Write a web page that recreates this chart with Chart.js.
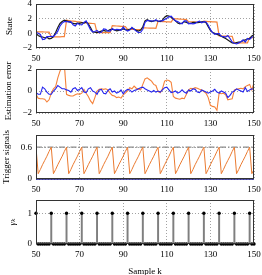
<!DOCTYPE html>
<html><head><meta charset="utf-8">
<script src="https://cdn.jsdelivr.net/npm/chart.js@4/dist/chart.umd.min.js"></script>
<style>
html,body{margin:0;padding:0;background:#fff;}
#wrap{position:relative;width:262px;height:275px;overflow:hidden;}
canvas{position:absolute;left:0;top:0;}
</style></head><body>
<div id="wrap">
<canvas id="c1" width="262" height="275"></canvas>
<canvas id="c2" width="262" height="275"></canvas>
<canvas id="c3" width="262" height="275"></canvas>
<canvas id="c4" width="262" height="275"></canvas>
</div>
<script>
const samples = [50,51,52,53,54,55,56,57,58,59,60,61,62,63,64,65,66,67,68,69,70,71,72,73,74,75,76,77,78,79,80,81,82,83,84,85,86,87,88,89,90,91,92,93,94,95,96,97,98,99,100,101,102,103,104,105,106,107,108,109,110,111,112,113,114,115,116,117,118,119,120,121,122,123,124,125,126,127,128,129,130,131,132,133,134,135,136,137,138,139,140,141,142,143,144,145,146,147,148,149,150];

const trueState = [0.0,-0.3,-0.45,-0.5,-0.6,-0.55,-0.75,-0.7,-0.45,0.1,
 0.8,1.35,1.6,1.8,1.7,1.6,1.5,1.35,1.3,1.4,
 1.35,1.45,1.4,1.55,1.3,0.8,0.2,0.15,0.1,0.2,
 0.3,0.4,0.3,0.35,0.5,0.55,0.45,0.35,0.4,0.5,
 0.6,0.5,0.45,0.55,0.7,0.6,0.4,0.3,0.45,0.9,
 1.7,1.85,1.7,1.6,1.7,1.75,1.65,1.6,1.8,2.2,
 2.4,2.35,2.2,1.9,1.7,1.4,1.3,1.4,1.6,1.5,
 1.4,1.35,1.5,1.5,1.45,1.5,1.55,1.6,1.45,0.9,
 0.4,0.1,0.0,-0.15,-0.25,-0.4,-0.55,-0.7,-0.9,-1.1,
 -1.3,-1.35,-1.25,-1.2,-1.15,-1.0,-0.9,-0.75,-0.7,-0.35,
 -0.2];

const estBlue = [0.15,0.0,-0.15,-0.85,-0.8,-0.45,-0.45,-0.4,-0.45,-0.1,
 0.3,1.0,1.4,1.6,1.6,1.55,1.6,1.15,1.0,1.35,
 1.2,1.15,1.5,1.7,1.1,0.5,0.2,0.25,0.4,0.1,
 0.15,0.6,0.55,0.3,0.3,0.65,0.45,0.55,0.5,0.4,
 0.85,0.5,0.3,0.45,0.8,0.55,0.3,0.1,0.15,0.55,
 1.5,1.75,1.7,1.7,1.65,1.85,1.65,1.7,1.7,1.9,
 2.05,2.25,2.35,2.0,1.7,1.6,1.4,1.3,1.7,1.7,
 1.3,1.35,1.3,1.35,1.55,1.65,1.45,1.6,1.55,1.1,
 0.5,0.1,-0.15,-0.05,-0.05,-0.4,-0.45,-0.5,-0.3,-0.7,
 -1.2,-1.35,-1.45,-1.3,-1.15,-0.9,-1.2,-0.7,-0.8,-0.55,
 -0.35];

const estOrange = [0.22,0.21,0.2,0.19,0.18,0.17,0.16,-0.5,-0.5,-0.49,
 -0.48,-0.47,-0.46,-0.45,1.8,1.75,1.7,1.66,1.62,1.58,
 1.55,1.5,1.46,1.43,1.4,1.37,1.34,1.31,0.1,0.1,
 0.1,0.1,0.1,0.1,0.1,1.05,1.03,1.0,0.98,0.96,
 0.94,0.92,0.55,0.54,0.53,0.52,0.51,0.5,0.5,0.75,
 0.74,0.73,0.72,0.71,0.7,0.69,1.65,1.63,1.61,1.59,
 1.57,1.55,1.53,2.0,1.98,1.96,1.94,1.92,1.9,1.88,
 1.6,1.58,1.56,1.54,1.52,1.5,1.48,1.65,1.63,1.61,
 1.59,1.57,1.55,1.53,-0.35,-0.36,-0.37,-0.38,-0.39,-0.4,
 -0.41,-1.35,-1.34,-1.33,-1.32,-1.31,-1.3,-1.29,-0.6,-0.6,
 -0.6];

const errBlue = [-0.15,-0.3,-0.3,0.35,0.2,-0.1,-0.3,-0.3,0.0,0.2,
 0.5,0.35,0.2,0.2,0.1,0.05,-0.1,0.2,0.3,0.05,
 0.15,0.3,-0.1,-0.15,0.2,0.3,0.0,-0.1,-0.3,0.1,
 0.15,-0.2,-0.25,0.05,0.2,-0.1,0.0,-0.2,-0.1,0.1,
 -0.25,0.0,0.15,0.1,-0.1,0.05,0.1,0.2,0.3,0.35,
 0.2,0.1,0.0,-0.1,0.05,-0.1,0.0,-0.1,0.1,0.3,
 0.35,0.1,-0.15,-0.1,0.0,-0.2,-0.1,0.1,-0.1,-0.2,
 0.1,0.0,0.2,0.15,-0.1,-0.15,0.1,0.0,-0.1,-0.2,
 -0.1,0.0,0.15,-0.1,-0.2,0.0,-0.1,-0.2,-0.6,-0.4,
 -0.1,0.0,0.2,0.1,0.0,-0.1,0.3,-0.05,0.1,0.2,
 0.15];

const errOrange = [-0.3,-0.65,-0.7,-0.7,-0.75,-1.0,-0.8,-0.2,0.2,0.4,
 1.2,1.8,2.3,2.4,-0.3,-0.4,-0.45,-0.45,-0.35,-0.25,
 -0.3,-0.2,0.15,-0.2,-0.5,-0.9,-1.15,-0.6,0.0,0.15,
 0.2,0.15,0.2,0.1,-0.2,-0.4,-0.45,-0.6,-0.55,-0.65,
 -0.35,-0.2,0.0,0.3,0.2,0.45,0.25,0.15,0.1,0.6,
 1.1,1.2,1.05,0.9,0.6,0.5,-0.05,-0.15,0.2,0.9,
 1.0,0.95,0.8,-0.5,-0.65,-0.7,-0.75,-0.65,-0.7,-0.3,
 0.1,0.25,0.2,0.3,0.25,0.15,0.1,-0.05,-0.2,-0.6,
 -1.3,-1.4,-1.45,-1.75,-0.2,-0.25,-0.2,-0.35,-0.8,-0.75,
 -0.7,0.1,0.15,0.2,0.25,0.2,0.4,0.5,0.6,0.1,
 0.75];

const trigOrange = [0.6,0.1,0.18,0.27,0.35,0.43,0.52,0.6,0.1,0.18,
 0.27,0.35,0.43,0.52,0.6,0.1,0.18,0.27,0.35,0.43,
 0.52,0.6,0.1,0.18,0.27,0.35,0.43,0.52,0.6,0.1,
 0.18,0.27,0.35,0.43,0.52,0.6,0.1,0.18,0.27,0.35,
 0.43,0.52,0.6,0.1,0.18,0.27,0.35,0.43,0.52,0.6,
 0.1,0.18,0.27,0.35,0.43,0.52,0.6,0.1,0.18,0.27,
 0.35,0.43,0.52,0.6,0.1,0.18,0.27,0.35,0.43,0.52,
 0.6,0.1,0.18,0.27,0.35,0.43,0.52,0.6,0.1,0.18,
 0.27,0.35,0.43,0.52,0.6,0.1,0.18,0.27,0.35,0.43,
 0.52,0.6,0.1,0.18,0.27,0.35,0.43,0.52,0.6,0.1,
 0.18];

const trigBlue = [0,0,0,0,0,0,0,0,0,0, 0,0,0,0,0,0,0,0,0,0, 0,0,0,0,0,0,0,0,0,0,
 0,0,0,0,0,0,0,0,0,0, 0,0,0,0,0,0,0,0,0,0, 0,0,0,0,0,0,0,0,0,0,
 0,0,0,0,0,0,0,0,0,0, 0,0,0,0,0,0,0,0,0,0, 0,0,0,0,0,0,0,0,0,0,
 0,0,0,0,0,0,0,0,0,0, 0];

const gamma = [1,0,0,0,0,0,0,1,0,0, 0,0,0,0,1,0,0,0,0,0, 0,1,0,0,0,0,0,0,1,0,
 0,0,0,0,0,1,0,0,0,0, 0,0,1,0,0,0,0,0,0,1, 0,0,0,0,0,0,1,0,0,0,
 0,0,0,1,0,0,0,0,0,0, 1,0,0,0,0,0,0,1,0,0, 0,0,0,0,1,0,0,0,0,0,
 0,1,0,0,0,0,0,0,1,0, 0];

const threshold = 0.6;
const xTickValues = [50,70,90,110,130,150];
const yTicksState = [-2,0,2,4];
const yTicksError = [-2,0,2];
const yTicksTrigger = [0,0.6];
const yTicksGamma = [0,1];

const FONT = "'Liberation Serif', 'DejaVu Serif', serif";
const ORANGE = '#f5823a', BLUE = '#2424ee', BLACK = '#1a1a1a', NAVY = '#1c1c8c';

const pts = arr => samples.map((k, i) => ({x: k, y: arr[i]}));
const fmt = v => String(v).replace('-', '\u2212');

const framePlugin = {
  id: 'frame',
  afterDraw(chart) {
    const {ctx, chartArea: a} = chart;
    ctx.save();
    ctx.strokeStyle = '#333';
    ctx.lineWidth = 1;
    ctx.strokeRect(a.left + 0.5, a.top + 0.5, a.right - a.left - 1, a.bottom - a.top - 1);
    ctx.restore();
  }
};

function line(arr, color, width, extra) {
  return Object.assign({type: 'line', data: pts(arr), borderColor: color, backgroundColor: color,
    borderWidth: width, pointRadius: 0, tension: 0, fill: false}, extra || {});
}

function makeChart(id, datasets, c) {
  return new Chart(document.getElementById(id), {
    type: 'line',
    data: {datasets},
    plugins: [framePlugin],
    options: {
      responsive: false, animation: false, devicePixelRatio: 1,
      events: [],
      layout: {padding: {left: 0, right: 8, top: c.top, bottom: 275 - c.bottom - c.xH}},
      plugins: {legend: {display: false}, tooltip: {enabled: false}},
      scales: {
        x: {
          type: 'linear', min: 50, max: 150, offset: false,
          afterBuildTicks: s => { s.ticks = xTickValues.map(v => ({value: v})); },
          afterFit: s => { s.height = c.xH; s.paddingLeft = 0; s.paddingRight = 0; },
          ticks: {autoSkip: false, maxRotation: 0, padding: 5, color: '#000',
            font: {family: FONT, size: 9}, callback: v => fmt(v)},
          grid: {color: '#8a8a8a', lineWidth: 0.8, drawTicks: false, offset: false},
          border: {display: false, dash: [1, 2]},
          title: c.xtitle ? {display: true, text: c.xtitle, color: '#000',
            font: {family: FONT, size: 9, lineHeight: 0.7}, padding: {top: 0, bottom: 0}} : {display: false}
        },
        y: {
          type: 'linear', min: c.ymin, max: c.ymax,
          afterBuildTicks: s => { s.ticks = c.yTicks.map(v => ({value: v})); },
          afterFit: s => { s.width = 36; s.paddingTop = 0; s.paddingBottom = 0; },
          ticks: {padding: 4, color: '#000', font: {family: FONT, size: 9}, callback: v => fmt(v)},
          grid: {color: '#8a8a8a', lineWidth: 0.8, drawTicks: false},
          border: {display: false, dash: [1, 2]},
          title: {display: true, text: c.ytitle, color: '#000',
            font: {family: FONT, size: 9, style: c.yStyle || 'normal'}, padding: {top: c.titleX - 5.4, bottom: 0}}
        }
      }
    }
  });
}

makeChart('c1', [
  line(estBlue, BLUE, 1.2),
  line(trueState, BLACK, 1.2),
  line(estOrange, ORANGE, 1.2)
], {top: 4, bottom: 48, xH: 20, ymin: -2, ymax: 4, yTicks: yTicksState, ytitle: 'State', titleX: 10});

makeChart('c2', [
  line(errBlue, BLUE, 1.1),
  line(errOrange, ORANGE, 1.1)
], {top: 69, bottom: 113, xH: 20, ymin: -2, ymax: 2, yTicks: yTicksError, ytitle: 'Estimation error', titleX: 9});

makeChart('c3', [
  line(trigBlue, NAVY, 1.4, {clip: 2}),
  line(trigOrange, '#ea7a30', 1.0),
  {type: 'line', data: [{x: samples[0], y: threshold}, {x: samples[samples.length - 1], y: threshold}],
   borderColor: '#8c8c8c', borderWidth: 1.3, borderDash: [6, 2, 1.5, 2], pointRadius: 0, fill: false}
], {top: 135, bottom: 179, xH: 20, ymin: 0, ymax: 0.83, yTicks: yTicksTrigger, ytitle: 'Trigger signals', titleX: 7});

makeChart('c4', [
  {type: 'line', data: pts(gamma), showLine: false, pointRadius: 1.7, pointBackgroundColor: '#000',
   pointBorderWidth: 0, borderColor: '#000', clip: 3},
  {type: 'bar', data: pts(gamma), backgroundColor: '#7f7f7f', barThickness: 1.3, borderWidth: 0}
], {top: 200, bottom: 244, xH: 31, ymin: 0, ymax: 1.43, yTicks: yTicksGamma, ytitle: '\u03b3\u2096', titleX: 13,
    yStyle: 'italic', xtitle: 'Sample k'});
</script>
</body></html>
